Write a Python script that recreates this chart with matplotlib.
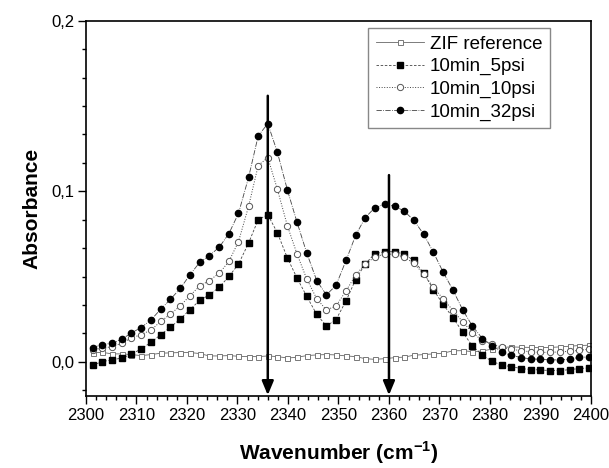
import matplotlib
matplotlib.use('Agg')
import matplotlib.pyplot as plt
from matplotlib.ticker import MultipleLocator, FuncFormatter

plt.rcParams['font.family'] = ['Liberation Sans', 'DejaVu Sans']
plt.rcParams['mathtext.fontset'] = 'custom'
plt.rcParams['mathtext.bf'] = 'Liberation Sans:bold'
plt.rcParams['mathtext.rm'] = 'Liberation Sans'
plt.rcParams['axes.unicode_minus'] = False

wavenumber = [2301.3, 2303.2, 2305.2, 2307.1, 2309.0, 2310.9, 2312.9, 2314.8, 2316.7, 2318.7,
              2320.6, 2322.5, 2324.4, 2326.4, 2328.3, 2330.2, 2332.2, 2334.1, 2336.0, 2337.9,
              2339.9, 2341.8, 2343.7, 2345.7, 2347.6, 2349.5, 2351.5, 2353.4, 2355.3, 2357.2,
              2359.2, 2361.1, 2363.0, 2364.9, 2366.9, 2368.8, 2370.7, 2372.7, 2374.6, 2376.5,
              2378.5, 2380.4, 2382.3, 2384.2, 2386.2, 2388.1, 2390.0, 2391.9, 2393.9, 2395.8,
              2397.7, 2399.7]

zif_ref = [0.0053, 0.0056, 0.0047, 0.0047, 0.0043, 0.0037, 0.0043, 0.0051, 0.0053, 0.0055,
           0.0055, 0.0049, 0.0035, 0.0035, 0.0037, 0.0033, 0.0031, 0.0031, 0.0035, 0.0031,
           0.0023, 0.0027, 0.0037, 0.0041, 0.0043, 0.0041, 0.0035, 0.0031, 0.0019, 0.0015,
           0.0019, 0.0025, 0.0028, 0.0039, 0.0043, 0.0047, 0.0051, 0.0065, 0.0066, 0.0060,
           0.0064, 0.0075, 0.0085, 0.0088, 0.0086, 0.0085, 0.0083, 0.0085, 0.0088, 0.0092,
           0.0096, 0.0098]

psi_5 = [-0.0020, 0.0002, 0.0012, 0.0023, 0.0045, 0.0076, 0.0115, 0.0160, 0.0203, 0.0252,
         0.0307, 0.0360, 0.0393, 0.0438, 0.0501, 0.0573, 0.0697, 0.0834, 0.0863, 0.0757,
         0.0608, 0.0491, 0.0385, 0.0278, 0.0211, 0.0247, 0.0358, 0.0483, 0.0575, 0.0634,
         0.0646, 0.0646, 0.0632, 0.0595, 0.0520, 0.0423, 0.0338, 0.0258, 0.0174, 0.0094,
         0.0040, 0.0003, -0.0018, -0.0028, -0.0039, -0.0045, -0.0047, -0.0051, -0.0051, -0.0045,
         -0.0039, -0.0035]

psi_10 = [0.0072, 0.0080, 0.0090, 0.0109, 0.0141, 0.0159, 0.0188, 0.0237, 0.0280, 0.0329,
          0.0389, 0.0444, 0.0477, 0.0520, 0.0589, 0.0705, 0.0912, 0.1151, 0.1198, 0.1012,
          0.0796, 0.0632, 0.0487, 0.0370, 0.0305, 0.0327, 0.0417, 0.0509, 0.0575, 0.0614,
          0.0634, 0.0630, 0.0614, 0.0579, 0.0514, 0.0438, 0.0370, 0.0301, 0.0235, 0.0172,
          0.0125, 0.0106, 0.0086, 0.0074, 0.0066, 0.0059, 0.0056, 0.0056, 0.0059, 0.0062,
          0.0068, 0.0075]

psi_32 = [0.0084, 0.0102, 0.0109, 0.0133, 0.0170, 0.0201, 0.0247, 0.0309, 0.0366, 0.0432,
          0.0511, 0.0583, 0.0622, 0.0673, 0.0752, 0.0871, 0.1082, 0.1325, 0.1397, 0.1229,
          0.1006, 0.0818, 0.0640, 0.0476, 0.0393, 0.0448, 0.0595, 0.0742, 0.0846, 0.0904,
          0.0925, 0.0914, 0.0884, 0.0831, 0.0747, 0.0642, 0.0528, 0.0419, 0.0305, 0.0211,
          0.0137, 0.0096, 0.0056, 0.0039, 0.0025, 0.0018, 0.0015, 0.0012, 0.0012, 0.0016,
          0.0027, 0.0029]

# arrows: (position, top value)
arrow_x = [2336, 2360]
arrow_top = [0.156, 0.1095]

fig = plt.figure(figsize=(6.09, 4.68), dpi=100)
ax = fig.add_axes([0.1412, 0.1538, 0.8292, 0.8019])

ax.plot(wavenumber, zif_ref, '-', color='#666666', lw=0.6, marker='s', ms=3.6,
        mfc='white', mec='#777777', mew=0.7, label='ZIF reference')
ax.plot(wavenumber, psi_5, '--', color='#444444', lw=0.6, dashes=(3, 2), marker='s', ms=4.0,
        mfc='black', mec='black', label='10min_5psi')
ax.plot(wavenumber, psi_10, ':', color='#444444', lw=0.7, marker='o', ms=4.5,
        mfc='white', mec='#555555', mew=0.7, label='10min_10psi')
ax.plot(wavenumber, psi_32, '-.', color='#444444', lw=0.6, marker='o', ms=4.5,
        mfc='black', mec='black', label='10min_32psi')

for xa, ya in zip(arrow_x, arrow_top):
    ax.annotate('', xy=(xa, -0.0195), xytext=(xa, ya),
                arrowprops=dict(arrowstyle='-|>,head_length=0.6,head_width=0.25', color='black',
                                lw=1.8, mutation_scale=14, shrinkA=0, shrinkB=0))

ax.set_xlim(2300, 2400)
ax.set_ylim(-0.02, 0.2)
ax.xaxis.set_major_locator(MultipleLocator(10))
ax.xaxis.set_minor_locator(MultipleLocator(2))
ax.yaxis.set_major_locator(MultipleLocator(0.1))
ax.yaxis.set_minor_locator(MultipleLocator(0.1 / 6))
ax.yaxis.set_major_formatter(FuncFormatter(lambda v, p: ('%.1f' % v).replace('.', ',')))

ax.tick_params(which='both', direction='out', top=False, right=False, labelsize=12, width=1)
ax.tick_params(which='major', length=5.8, pad=2.5)
ax.tick_params(which='minor', length=3)
for s in ax.spines.values():
    s.set_linewidth(1.2)

ax.set_xlabel(r'Wavenumber (cm$^{\mathbf{-1}}$)', fontsize=15, fontweight='bold', labelpad=12)
ax.set_ylabel('Absorbance', fontsize=15, fontweight='bold', labelpad=7)

leg = ax.legend(loc='upper right', bbox_to_anchor=(0.919, 0.98), fontsize=13.5,
                fancybox=False, framealpha=1, edgecolor='#888888', handlelength=2.6,
                handletextpad=0.3, labelspacing=0.28, borderpad=0.4, borderaxespad=0)
leg.get_frame().set_linewidth(1.0)

plt.savefig('out.png', dpi=100)
